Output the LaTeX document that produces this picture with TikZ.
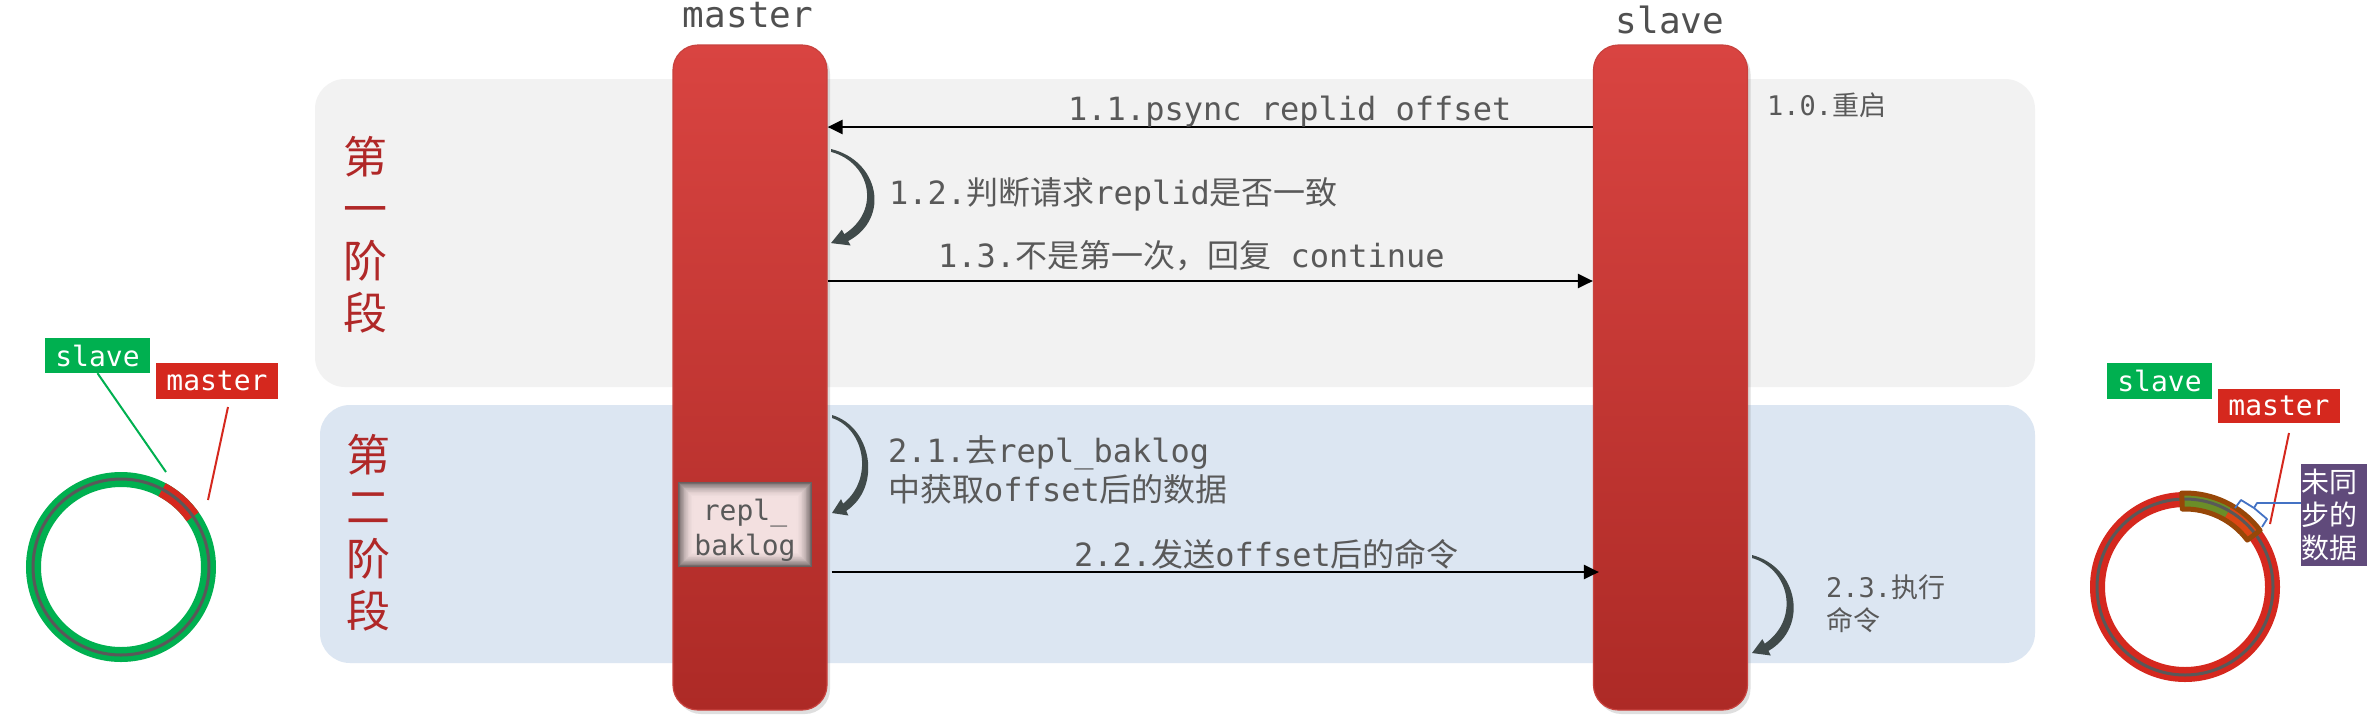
\documentclass[tikz,border=0pt]{standalone}
\usepackage{fontspec}
\setmonofont{DejaVu Sans Mono}
\newfontfamily\cjk{Noto Sans CJK SC}
\usetikzlibrary{arrows.meta,shadows,calc}
\definecolor{txtgray}{RGB}{89,89,89}
\definecolor{hdrgray}{RGB}{80,80,80}
\definecolor{phaseA}{RGB}{242,242,242}
\definecolor{phaseB}{RGB}{220,230,242}
\definecolor{barTop}{RGB}{217,68,65}
\definecolor{barBot}{RGB}{173,42,38}
\definecolor{barEdge}{RGB}{200,66,62}
\definecolor{arrowgray}{RGB}{64,74,74}
\definecolor{phasered}{RGB}{176,40,40}
\definecolor{taggreen}{RGB}{0,176,80}
\definecolor{tagred}{RGB}{213,40,30}
\definecolor{tagpurple}{RGB}{96,74,123}
\definecolor{bandbrown}{RGB}{151,71,8}
\definecolor{bandgreen}{RGB}{107,142,40}
\definecolor{bandorange}{RGB}{220,70,20}
\definecolor{bracketblue}{RGB}{68,114,196}
\definecolor{ringgray}{RGB}{89,89,89}
\definecolor{pinkbox}{RGB}{243,224,224}
\definecolor{shadowgray}{RGB}{105,95,95}
\begin{document}
\begin{tikzpicture}[x=1pt,y=-1pt,
  msg/.style={draw=black, line width=2.4pt, -{Triangle[length=15pt,width=14pt]}},
  lbl/.style={font=\ttfamily\fontsize{32}{39}\selectfont, text=txtgray, inner sep=0pt, anchor=base west, align=left},
  smalllbl/.style={font=\ttfamily\fontsize{27}{33}\selectfont, text=txtgray, inner sep=0pt, anchor=base west, align=left},
  hdr/.style={font=\ttfamily\fontsize{36}{40}\selectfont, text=hdrgray, inner sep=0pt, anchor=base},
  phase/.style={font=\cjk\fontsize{44}{52}\selectfont, text=phasered, inner sep=0pt, align=center},
  bar/.style={rounded corners=25pt, minimum width=154pt, minimum height=665pt, top color=barTop, bottom color=barBot, draw=barEdge, line width=1.2pt, drop shadow={opacity=0.25,shadow xshift=3pt,shadow yshift=-4pt}},
  tag/.style={font=\ttfamily\fontsize{28}{32}\selectfont, text=white, inner sep=0pt, minimum height=35pt},
  loopy/.pic={\fill[arrowgray] (0,0) .. controls (40,12) and (50,72) .. (14.3,95.9) -- (16.4,100.5) -- (0,98) -- (9,84.1) -- (11.1,88.7) .. controls (42,64) and (33,14) .. (0,3) -- cycle;}
]
\fill[white] (0,0) rectangle (2378,724);
\useasboundingbox (0,0) rectangle (2378,724);

% phase panels
\fill[phaseA, rounded corners=30pt] (315,79) rectangle (2035,387);
\fill[phaseB, rounded corners=30pt] (320,405) rectangle (2035,663);
\node[phase] (p1) at (365,234.5) {第\\一\\阶\\段};
\node[phase] (p2) at (368,533) {第\\二\\阶\\段};

% headers and bars
\node[hdr] (hm) at (748,27) {master};
\node[hdr] (hs) at (1670,33) {slave};
\node[bar] (masterbar) at (750,377.5) {};
\node[bar] (slavebar) at (1670.5,377.5) {};

% repl_baklog box with inner shadow
\foreach \i [evaluate=\i as \p using int(100-(20-\i)*(20-\i)/4)] in {0,...,20}
  \fill[pinkbox!\p!shadowgray] (678+0.8*\i,482+0.8*\i) rectangle (812-0.8*\i,567-0.8*\i);
\node[font=\ttfamily\fontsize{28}{35}\selectfont, text=txtgray, inner sep=0pt, align=center] (baklog) at (745,530) {repl\_\\baklog};

% messages
\coordinate (y11) at (0,127);
\coordinate (y13) at (0,281);
\coordinate (y22) at (0,572);
\draw[msg] (slavebar.west |- y11) -- (masterbar.east |- y11);
\draw[msg] (masterbar.east |- y13) -- (slavebar.west |- y13);
\draw[msg] ($(masterbar.east |- y22)+(4,0)$) -- ($(slavebar.west |- y22)+(6,0)$);

\node[lbl] (t11) at (1068,120) {1.1.psync replid offset};
\node[lbl] (t12) at (889,204) {1.2.{\cjk 判断请求}replid{\cjk 是否一致}};
\node[lbl] (t13) at (938,267) {1.3.{\cjk 不是第一次，回复} continue};
\node[smalllbl] (t10) at (1767,115) {1.0.{\cjk 重启}};
\node[lbl, anchor=west] (t21) at (888,470) {2.1.{\cjk 去}repl\_baklog\\{\cjk 中获取}offset{\cjk 后的数据}};
\node[lbl] (t22) at (1074,566) {2.2.{\cjk 发送}offset{\cjk 后的命令}};
\node[smalllbl, anchor=west] (t23) at (1826,604) {2.3.{\cjk 执行}\\{\cjk 命令}};

% self loops
\pic[xscale=1.2, yscale=0.96] (loop12) at (831,149) {loopy};
\pic (loop21) at (832,415) {loopy};
\pic[xscale=1.15] (loop23) at (1752,555) {loopy};

% left ring
\coordinate (ringL) at (121,567);
\draw[taggreen, line width=15pt] (ringL) circle[radius=87.5];
\draw[tagred, line width=15pt] (ringL) ++(-35:87.5) arc[start angle=-35, end angle=-62, radius=87.5];
\draw[ringgray, line width=3pt] (ringL) circle[radius=88];
\node[tag, fill=taggreen, minimum width=105pt] (lslave) at (97.5,355.5) {slave};
\node[tag, fill=tagred, minimum width=122pt, minimum height=36pt] (lmaster) at (217,381) {master};
\coordinate (lgend) at (166,472);
\coordinate (lrstart) at (228,407);
\coordinate (lrend) at (208,500);
\draw[taggreen, line width=2pt] (lslave.south) -- (lgend);
\draw[tagred, line width=2pt] (lrstart) -- (lrend);

% right ring
\coordinate (ringR) at (2185,587);
\draw[tagred, line width=15pt] (ringR) circle[radius=87.5];
\fill[bandgreen] ($(ringR)+(-92:78)$) arc[start angle=-92, end angle=-60, radius=78] -- ($(ringR)+(-60:94)$) arc[start angle=-60, end angle=-92, radius=94] -- cycle;
\fill[bandorange] ($(ringR)+(-60:78)$) arc[start angle=-60, end angle=-37, radius=78] -- ($(ringR)+(-37:94)$) arc[start angle=-37, end angle=-60, radius=94] -- cycle;
\draw[ringgray, line width=3pt] (ringR) circle[radius=88];
\draw[bandbrown, line width=5pt, line join=round] ($(ringR)+(-92:78)$) arc[start angle=-92, end angle=-37, radius=78] -- ($(ringR)+(-37:94)$) arc[start angle=-37, end angle=-92, radius=94] -- cycle;
\node[tag, fill=taggreen, minimum width=105pt, minimum height=36pt] (rslave) at (2159.5,381) {slave};
\node[tag, fill=tagred, minimum width=122pt, minimum height=34pt] (rmaster) at (2279,406) {master};
\node[fill=tagpurple, text=white, font=\cjk\fontsize{28}{33}\selectfont, inner sep=0pt, minimum width=66pt, minimum height=102pt, text width=66pt, align=left] (unsync) at (2334,515) {未同\\步的\\数据};
\coordinate (rrstart) at (2289,433);
\coordinate (rrend) at (2270,524);
\draw[tagred, line width=2pt] (rrstart) -- (rrend);
\coordinate (brA) at (2235,508);
\coordinate (brB) at (2241,500);
\coordinate (brM) at (2254,508);
\coordinate (brS) at (2257,503);
\coordinate (brC) at (2267,519);
\coordinate (brD) at (2262,527);
\draw[bracketblue, line width=1.8pt, line join=round] (brA) -- (brB) -- (brM) -- (brC) -- (brD);
\draw[bracketblue, line width=1.8pt, line join=round] (brM) -- (brS) -- (unsync.west |- brS);
\end{tikzpicture}
\end{document}
